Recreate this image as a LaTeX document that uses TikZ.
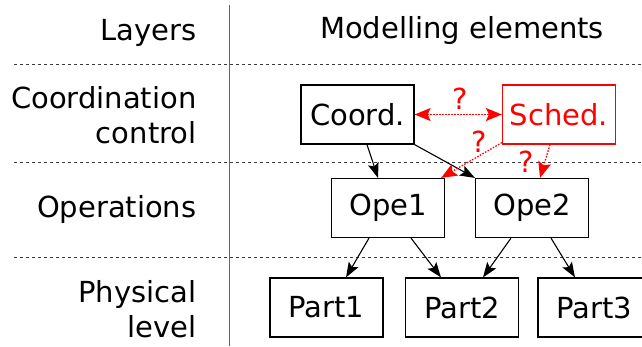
\documentclass[tikz,border=0pt]{standalone}
\usepackage{fontspec}
\setmainfont{DejaVu Sans}
\usepackage{tikz}
\usetikzlibrary{calc,positioning,arrows.meta}
\usepackage{xcolor}
\definecolor{myred}{RGB}{255,0,0}
\definecolor{mygray}{RGB}{60,60,60}

\tikzset{
  box/.style={draw, line width=1.2pt, minimum width=113pt, minimum height=59pt, inner sep=0pt},
  layer/.style={anchor=east, align=right},
  sep/.style={mygray, line width=0.8pt, dash pattern=on 3pt off 3pt},
  link/.style={line width=1.1pt, -{Stealth[length=15pt,width=11pt,inset=3pt]}},
  maybe/.style={myred, line width=1.3pt, dash pattern=on 1.5pt off 1.5pt},
  qmark/.style={myred, inner sep=0pt}
}

\begin{document}
\begin{tikzpicture}[x=1pt, y=-1pt, font=\fontsize{29}{35}\selectfont]
  \useasboundingbox (0,0) rectangle (642,346);
  % layers column
  \draw[mygray!80, line width=1.5pt] (229.5,5) -- (229.5,346);
  \draw[sep] (14,64) -- (642,64);
  \draw[sep] (14,162) -- (642,162);
  \draw[sep] (14,257) -- (642,257);
  \node[layer] (lhead) at (200,33) {Layers};
  \node (mhead) at (462,30) {Modelling elements};
  \node[layer] (lcoord) at (200,115.5) {Coordination\\control};
  \node[layer] (lope) at (200,209) {Operations};
  \node[layer] (lphys) at (200,309) {Physical\\level};
  % elements
  \node[box] (coord) at (357.5,114.5) {Coord.};
  \node[box, myred, text=myred] (sched) at (559,114.5) {Sched.};
  \node[box] (ope1) at (388,208) {Ope1};
  \node[box] (ope2) at (532,208) {Ope2};
  \node[box] (part1) at (326.5,307.5) {Part1};
  \node[box] (part2) at (462,307.5) {Part2};
  \node[box] (part3) at (594.5,307.5) {Part3};
  % links
  \draw[link] ([xshift=9.5pt]coord.south) -- ([xshift=-10pt]ope1.north);
  \draw[link] (coord.south east) -- (ope2.north west);
  \draw[link] ([xshift=-19pt]ope1.south) -- ([xshift=19.5pt]part1.north);
  \draw[link] ([xshift=23pt]ope1.south) -- ([xshift=-21pt]part2.north);
  \draw[link] ([xshift=-21pt]ope2.south) -- ([xshift=21pt]part2.north);
  \draw[link] ([xshift=19pt]ope2.south) -- ([xshift=-19.5pt]part3.north);
  % open questions
  \draw[maybe, {Stealth[length=16pt,width=13pt,inset=3pt]}-{Stealth[length=16pt,width=13pt,inset=3pt]}] (coord.east) -- (sched.west);
  \draw[maybe, -{Stealth[length=16pt,width=13pt,inset=3pt]}] ([yshift=2pt]sched.south west) -- ([xshift=-4pt]ope1.north east);
  \draw[maybe, -{Stealth[length=16pt,width=13pt,inset=3pt]}] ([xshift=-9pt]sched.south) -- ([xshift=8pt]ope2.north);
  \node[qmark] (q1) at (460,99) {?};
  \node[qmark] (q2) at (479,142) {?};
  \node[qmark] (q3) at (526,162) {?};
\end{tikzpicture}
\end{document}
